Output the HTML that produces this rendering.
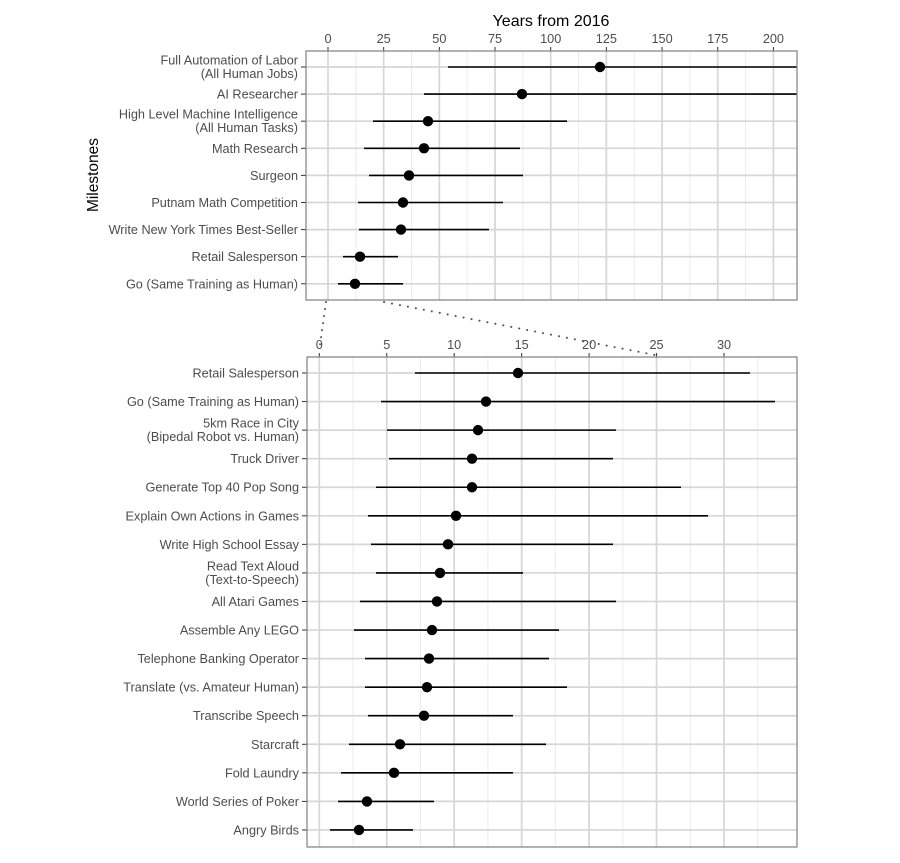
<!DOCTYPE html>
<html><head><meta charset="utf-8"><style>
body{margin:0;background:#fff}
svg{display:block;font-family:"Liberation Sans",Arial,sans-serif}
</style></head><body>
<svg id="s" width="900" height="863" xmlns="http://www.w3.org/2000/svg"></svg>
<script>
const s=document.getElementById('s');let h='';
const FS=12.7;
function panel(L,R,T,B,x0,sc,ticks,step,rows,y0,dy,labels,data){
  h+=`<rect x="${L}" y="${T}" width="${R-L}" height="${B-T}" fill="#fff"/>`;
  for(let v=-100;v<=400;v+=step/2){const x=x0+v*sc;if(x>L&&x<R&&(Math.round(v/step*2)%2!==0))h+=`<line x1="${x}" x2="${x}" y1="${T}" y2="${B}" stroke="#ebebeb" stroke-width="1"/>`;}
  for(const v of ticks){const x=x0+v*sc;h+=`<line x1="${x}" x2="${x}" y1="${T}" y2="${B}" stroke="#d6d6d6" stroke-width="1.7"/>`;
    h+=`<line x1="${x}" x2="${x}" y1="${T-4}" y2="${T}" stroke="#333" stroke-width="1"/>`;
    h+=`<text x="${x}" y="${T-8}" font-size="${FS}" fill="#4d4d4d" text-anchor="middle">${v}</text>`;}
  for(let i=0;i<rows;i++){const y=y0+i*dy;
    h+=`<line x1="${L}" x2="${R}" y1="${y}" y2="${y}" stroke="#d6d6d6" stroke-width="1.7"/>`;
    h+=`<line x1="${L-5}" x2="${L}" y1="${y}" y2="${y}" stroke="#333" stroke-width="1"/>`;
    const l=labels[i].split('|');
    if(l.length==1)h+=`<text x="${L-8}" y="${y+4.5}" font-size="${FS}" fill="#4d4d4d" text-anchor="end">${l[0]}</text>`;
    else{h+=`<text x="${L-8}" y="${y-2.5}" font-size="${FS}" fill="#4d4d4d" text-anchor="end">${l[0]}</text><text x="${L-8}" y="${y+11}" font-size="${FS}" fill="#4d4d4d" text-anchor="end">${l[1]}</text>`;}
    const d=data[i];
    h+=`<line x1="${d[0]}" x2="${d[2]}" y1="${y}" y2="${y}" stroke="#000" stroke-width="1.6"/>`;
    h+=`<circle cx="${d[1]}" cy="${y}" r="5.2" fill="#000"/>`;}
  h+=`<rect x="${L}" y="${T}" width="${R-L}" height="${B-T}" fill="none" stroke="#7f7f7f" stroke-width="1.2"/>`;
}
panel(306,797,51,300,328,2.227,[0,25,50,75,100,125,150,175,200],25,9,67,27.1,
["Full Automation of Labor|(All Human Jobs)","AI Researcher","High Level Machine Intelligence|(All Human Tasks)","Math Research","Surgeon","Putnam Math Competition","Write New York Times Best-Seller","Retail Salesperson","Go (Same Training as Human)"],
[[448,600,797],[424,522,797],[373,428,567],[364,424,520],[369,409,523],[358,403,503],[359,401,489],[343,360,398],[338,355,403]]);
panel(307,797,357,847,319.3,13.49,[0,5,10,15,20,25,30],5,17,373,28.56,
["Retail Salesperson","Go (Same Training as Human)","5km Race in City|(Bipedal Robot vs. Human)","Truck Driver","Generate Top 40 Pop Song","Explain Own Actions in Games","Write High School Essay","Read Text Aloud|(Text-to-Speech)","All Atari Games","Assemble Any LEGO","Telephone Banking Operator","Translate (vs. Amateur Human)","Transcribe Speech","Starcraft","Fold Laundry","World Series of Poker","Angry Birds"],
[[415,518,750],[381,486,775],[387,478,616],[389,472,613],[376,472,681],[368,456,708],[371,448,613],[376,440,523],[360,437,616],[354,432,559],[365,429,549],[365,427,567],[368,424,513],[349,400,546],[341,394,513],[338,367,434],[330,359,413]]);
h+=`<line x1="326" y1="302" x2="320" y2="345" stroke="#555" stroke-width="2" stroke-dasharray="0.1 7" stroke-linecap="round"/>`;
h+=`<line x1="384" y1="302" x2="655" y2="355" stroke="#555" stroke-width="2" stroke-dasharray="0.1 8" stroke-linecap="round"/>`;
h+=`<text x="551" y="26" font-size="16" fill="#000" text-anchor="middle">Years from 2016</text>`;
h+=`<text transform="translate(98,175) rotate(-90)" font-size="15.5" fill="#000" text-anchor="middle">Milestones</text>`;
s.innerHTML=h;
</script>
</body></html>
